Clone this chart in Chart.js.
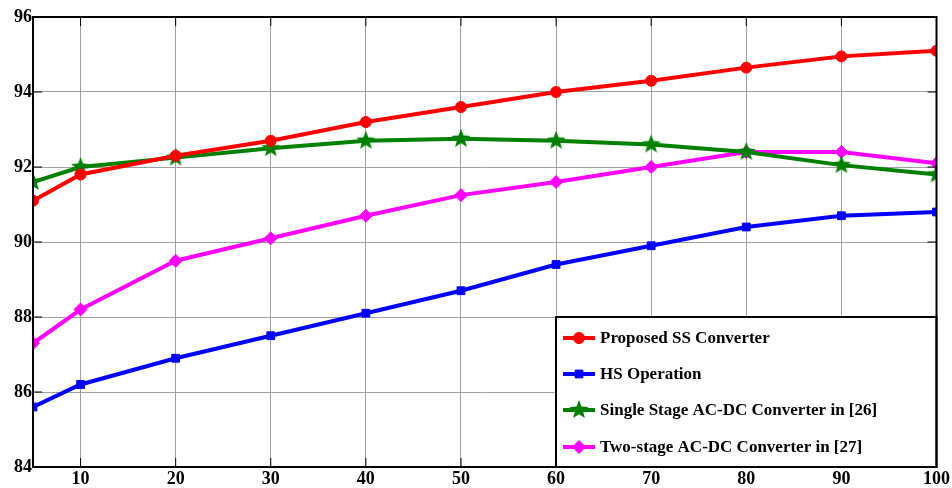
<!DOCTYPE html>
<html>
<head>
<meta charset="utf-8">
<script src="https://cdn.jsdelivr.net/npm/chart.js@4.4.1/dist/chart.umd.min.js"></script>
<style>
  html, body { margin: 0; padding: 0; background: #fff; }
  #wrap { width: 952px; height: 488px; }
</style>
</head>
<body>
<div id="wrap"><canvas id="chart"></canvas></div>
<script>
const loads = [5, 10, 20, 30, 40, 50, 60, 70, 80, 90, 100];
const xTicks = [10, 20, 30, 40, 50, 60, 70, 80, 90, 100];
const yTicks = [84, 86, 88, 90, 92, 94, 96];

const proposedSS = [91.1, 91.8, 92.3, 92.7, 93.2, 93.6, 94.0, 94.3, 94.65, 94.95, 95.1];
const hsOperation = [85.6, 86.2, 86.9, 87.5, 88.1, 88.7, 89.4, 89.9, 90.4, 90.7, 90.8];
const singleStage = [91.6, 92.0, 92.25, 92.5, 92.7, 92.75, 92.7, 92.6, 92.4, 92.05, 91.8];
const twoStage = [87.3, 88.2, 89.5, 90.1, 90.7, 91.25, 91.6, 92.0, 92.4, 92.4, 92.1];

const FONT = { family: '"Liberation Serif", "Times New Roman", serif', weight: 'bold' };

// five-pointed star marker, Chart.js only has the stroked kind
function makeStar(size, color) {
  const c = document.createElement('canvas');
  c.width = size; c.height = size;
  const ctx = c.getContext('2d');
  const cx = size / 2, cy = size / 2, outer = size / 2, inner = outer * 0.42;
  ctx.beginPath();
  for (let i = 0; i < 10; i++) {
    const r = i % 2 ? inner : outer;
    const a = -Math.PI / 2 + i * Math.PI / 5;
    ctx.lineTo(cx + r * Math.cos(a), cy + r * Math.sin(a));
  }
  ctx.closePath();
  ctx.fillStyle = color;
  ctx.fill();
  return c;
}
const starImg = makeStar(20, '#008000');

function series(label, values, color, pointStyle, radius) {
  return {
    label,
    data: loads.map((x, i) => ({ x, y: values[i] })),
    borderColor: color,
    backgroundColor: color,
    borderWidth: 4,
    pointStyle,
    pointRadius: radius,
    pointBorderWidth: 1,
    tension: 0,
  };
}

const frameAndLegend = {
  id: 'frameAndLegend',
  afterDatasetsDraw(chart) {
    const { ctx, chartArea: a } = chart;
    ctx.save();
    // inward tick marks on all four sides
    ctx.strokeStyle = '#000';
    ctx.lineWidth = 1;
    const xs = chart.scales.x, ys = chart.scales.y;
    xTicks.forEach(t => {
      const px = xs.getPixelForValue(t);
      ctx.beginPath();
      ctx.moveTo(px, a.bottom); ctx.lineTo(px, a.bottom - 9);
      ctx.moveTo(px, a.top); ctx.lineTo(px, a.top + 9);
      ctx.stroke();
    });
    yTicks.forEach(t => {
      const py = ys.getPixelForValue(t);
      ctx.beginPath();
      ctx.moveTo(a.left, py); ctx.lineTo(a.left + 9, py);
      ctx.moveTo(a.right, py); ctx.lineTo(a.right - 9, py);
      ctx.stroke();
    });

    // legend box in lower right corner
    const bx = 556, by = 317, bw = a.right - bx, bh = a.bottom - by;
    ctx.fillStyle = '#fff';
    ctx.fillRect(bx, by, bw, bh);
    ctx.lineWidth = 2;
    ctx.strokeRect(bx, by, bw, bh);

    ctx.font = 'bold 17px "Liberation Serif", "Times New Roman", serif';
    ctx.textBaseline = 'middle';
    const rowY = [338, 374, 410, 447];
    chart.data.datasets.forEach((ds, i) => {
      const y = rowY[i];
      ctx.strokeStyle = ds.borderColor;
      ctx.fillStyle = ds.backgroundColor;
      ctx.lineWidth = 4;
      ctx.beginPath();
      ctx.moveTo(563, y); ctx.lineTo(595, y);
      ctx.stroke();
      ctx.lineWidth = 1;
      Chart.helpers.drawPoint(ctx, {
        pointStyle: ds.pointStyle,
        radius: ds.pointRadius,
        borderWidth: 1,
        rotation: 0,
      }, 579, y);
      ctx.fillStyle = '#000';
      ctx.fillText(ds.label, 600, y + 1);
    });

    // plot frame
    ctx.strokeStyle = '#000';
    ctx.lineWidth = 2;
    ctx.strokeRect(a.left, a.top, a.right - a.left, a.bottom - a.top);
    ctx.restore();
  }
};

new Chart(document.getElementById('chart'), {
  type: 'line',
  data: {
    datasets: [
      series('Proposed SS Converter', proposedSS, '#ff0000', 'circle', 5.5),
      series('HS Operation', hsOperation, '#0000ff', 'rect', 5.5),
      series('Single Stage AC-DC Converter in [26]', singleStage, '#008000', starImg, 10),
      series('Two-stage AC-DC Converter in [27]', twoStage, '#ff00ff', 'rectRot', 6.5),
    ],
  },
  options: {
    responsive: true,
    maintainAspectRatio: false,
    animation: false,
    layout: { padding: { top: 17, right: 15, left: 0, bottom: 0 } },
    plugins: { legend: { display: false }, tooltip: { enabled: false } },
    scales: {
      x: {
        type: 'linear',
        min: 5,
        max: 100,
        afterBuildTicks: s => { s.ticks = xTicks.map(v => ({ value: v })); },
        afterFit: s => { s.height = 21; },
        grid: { color: '#a0a0a0', lineWidth: 1, drawTicks: false },
        border: { display: false },
        ticks: { color: '#000', font: { ...FONT, size: 18 }, padding: 2, maxRotation: 0 },
      },
      y: {
        min: 84,
        max: 96,
        afterBuildTicks: s => { s.ticks = yTicks.map(v => ({ value: v })); },
        afterFit: s => { s.width = 33; },
        grid: { color: '#a0a0a0', lineWidth: 1, drawTicks: false },
        border: { display: false },
        ticks: { color: '#000', font: { ...FONT, size: 18 }, padding: 1 },
      },
    },
  },
  plugins: [frameAndLegend],
});
</script>
</body>
</html>
